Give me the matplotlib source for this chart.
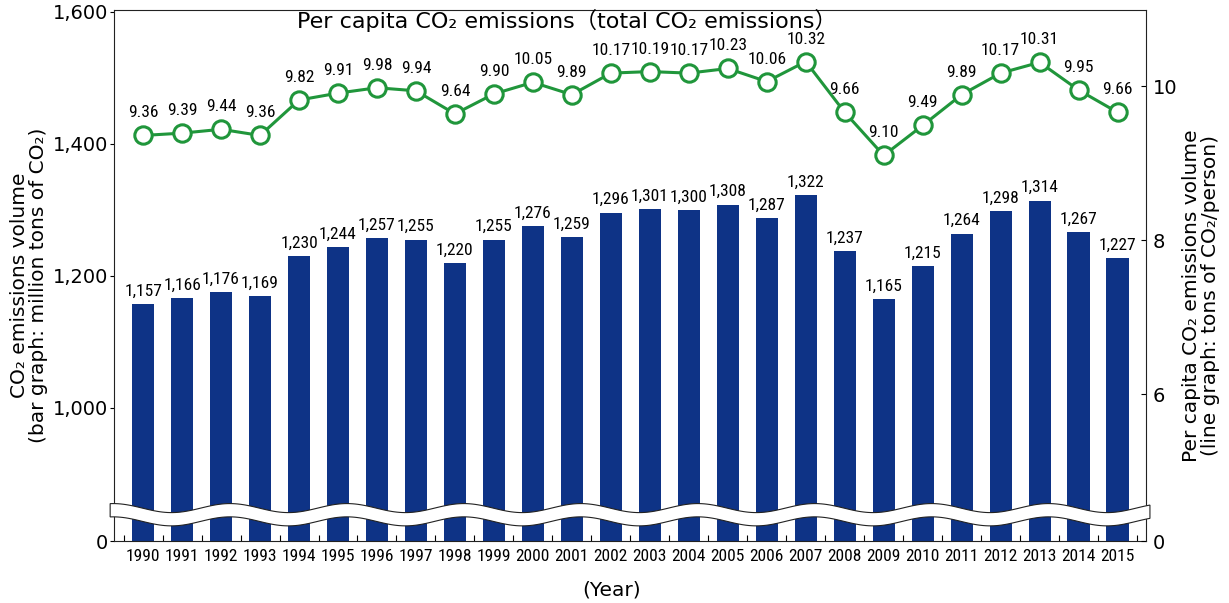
import matplotlib
matplotlib.use('Agg')
import matplotlib.pyplot as plt
from matplotlib import font_manager
from matplotlib.font_manager import FontProperties
from matplotlib.patches import Polygon
from matplotlib.transforms import blended_transform_factory
import numpy as np

# Data
years = list(range(1990, 2016))
total_co2 = [1157, 1166, 1176, 1169, 1230, 1244, 1257, 1255, 1220, 1255, 1276, 1259, 1296,
             1301, 1300, 1308, 1287, 1322, 1237, 1165, 1215, 1264, 1298, 1314, 1267, 1227]
per_capita = [9.36, 9.39, 9.44, 9.36, 9.82, 9.91, 9.98, 9.94, 9.64, 9.90, 10.05, 9.89, 10.17,
              10.19, 10.17, 10.23, 10.06, 10.32, 9.66, 9.10, 9.49, 9.89, 10.17, 10.31, 9.95, 9.66]

left_ticks = [1000, 1200, 1400, 1600]
left_labels = ['1,000', '1,200', '1,400', '1,600']
right_ticks = [6, 8, 10]
right_labels = ['6', '8', '10']

# broken axes: the "0" tick sits at these values
bar_base = 798.5
line_base = 4.09

bar_color = '#0e3386'
green = '#20963b'

# look for a condensed font for the numbers
num_font = FontProperties(family='Liberation Sans', size=11.5)
for fam in ['Liberation Sans Narrow', 'Roboto Condensed', 'Open Sans Condensed',
            'Noto Sans Condensed', 'DejaVu Sans Condensed', 'Arial Narrow']:
    try:
        font_manager.findfont(FontProperties(family=fam), fallback_to_default=False)
        num_font = FontProperties(family=fam, size=12.5)
        break
    except ValueError:
        pass
else:
    path = font_manager.findfont(FontProperties(family='DejaVu Sans', stretch='condensed'))
    if 'Condensed' in path:
        num_font = FontProperties(fname=path, size=12)

fig = plt.figure(figsize=(12.29, 6.03), dpi=100)
ax = fig.add_axes([0.0928, 0.1028, 0.8397, 0.8806])
ax2 = ax.twinx()

x = np.arange(len(years))

# Bars
ax.bar(x, np.array(total_co2) - bar_base, bottom=bar_base, width=0.57, color=bar_color, zorder=2)
for xi, v in zip(x, total_co2):
    ax.annotate(f'{v:,}', (xi, v), xytext=(0, 6), textcoords='offset points',
                ha='center', va='baseline', fontproperties=num_font)

# Line
ax2.plot(x, per_capita, color=green, lw=2.2, marker='o', ms=12.5, mfc='white',
         mec=green, mew=2.2, zorder=3, clip_on=False)
for xi, v in zip(x, per_capita):
    ax2.annotate(f'{v:.2f}', (xi, v), xytext=(0, 13), textcoords='offset points',
                 ha='center', va='baseline', fontproperties=num_font)

# Axis limits
ax.set_xlim(-0.745, 25.73)
ax.set_ylim(bar_base, 1602.7)
ax2.set_ylim(line_base, 10.99)

# Left axis
ax.set_yticks([bar_base] + left_ticks)
ax.set_yticklabels(['0'] + left_labels, fontsize=14)
ax.tick_params(axis='y', direction='out', length=3, width=0.8, pad=1.5)

# Right axis
ax2.set_yticks([line_base] + right_ticks)
ax2.set_yticklabels(['0'] + right_labels, fontsize=14)
ax2.tick_params(axis='y', direction='in', length=3.5, width=0.8, pad=5)

# X axis
ax.set_xticks(x)
ax.set_xticklabels([str(y) for y in years], fontproperties=num_font)
ax.set_xticks(np.arange(-0.5, 26, 1), minor=True)
ax.tick_params(axis='x', which='major', length=0, pad=6)
ax.tick_params(axis='x', which='minor', direction='in', length=4.5, width=0.8)

for a in (ax, ax2):
    for s in a.spines.values():
        s.set_linewidth(0.8)
        s.set_color('#222222')
ax.spines['right'].set_visible(False)
for s in ('left', 'top', 'bottom'):
    ax2.spines[s].set_visible(False)

# Wavy break band
trans = blended_transform_factory(ax2.transData, ax2.transAxes)
xs = np.linspace(-0.845, 25.83, 400)
upper = 0.062 + 0.0085 * np.cos(2 * np.pi * (xs + 0.77) / 3)
lower = upper - 0.025
verts = np.vstack([np.column_stack([xs, upper]), np.column_stack([xs[::-1], lower[::-1]])])
band = Polygon(verts, closed=True, facecolor='white', edgecolor='#222222', lw=0.8,
               transform=trans, clip_on=False, zorder=6)
ax2.add_patch(band)

# Texts
ax.text(0.439, 0.981, 'Per capita CO\u2082 emissions\uff08total CO\u2082 emissions\uff09',
        transform=ax.transAxes, ha='center', va='center', fontsize=16,
        family=['DejaVu Sans', 'Noto Sans CJK JP'])
fig.text(29 / 1229, 0.527, 'CO\u2082 emissions volume\n(bar graph: million tons of CO\u2082)',
         rotation=90, ha='center', va='center', fontsize=14.5, family='DejaVu Sans',
         linespacing=1.05)
fig.text(1201 / 1229, 0.51, 'Per capita CO\u2082 emissions volume\n(line graph: tons of CO\u2082/person)',
         rotation=90, ha='center', va='center', fontsize=14.5, family='DejaVu Sans',
         linespacing=1.05)
fig.text(612 / 1229, 0.0216, '(Year)', ha='center', va='center', fontsize=14.5,
         family='DejaVu Sans')

plt.savefig('out.png', dpi=100)
